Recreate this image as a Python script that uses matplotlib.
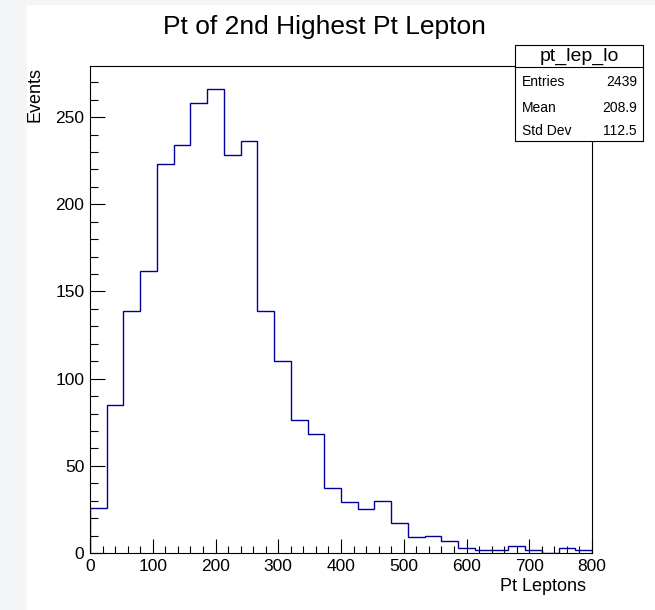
import numpy as np
import matplotlib
matplotlib.use("Agg")
import matplotlib.pyplot as plt
from matplotlib.patches import Rectangle
from matplotlib.ticker import MultipleLocator

plt.rcParams['font.family'] = ['Liberation Sans', 'DejaVu Sans']

# histogram pt_lep_lo : 30 bins from 0 to 800
x_lo, x_hi, n_bins = 0, 800, 30
counts = [26, 85, 139, 162, 223, 234, 258, 266, 228, 236,
          139, 110, 76, 68, 37, 29, 25, 30, 17, 9,
          10, 7, 3, 2, 2, 4, 2, 0, 3, 2]
stat_names = ["Entries", "Mean", "Std Dev"]
stat_values = ["2439", "208.9", "112.5"]
hist_name = "pt_lep_lo"
title = "Pt of 2nd Highest Pt Lepton"
xlabel = "Pt Leptons"
ylabel = "Events"

W, H = 655, 610
fig = plt.figure(figsize=(W / 100, H / 100), dpi=100)
fig.patch.set_facecolor('#f4f5f7')
# white canvas
fig.patches.append(Rectangle((27 / W, 0), 1 - 27 / W, 1 - 5 / H, transform=fig.transFigure,
                             facecolor='white', edgecolor='none', zorder=0))

def fx(px):
    return px / W

def fy(py):
    return 1 - py / H

ax = fig.add_axes([fx(90), fy(553), fx(592) - fx(90), fy(66) - fy(553)])
ax.set_zorder(2)
edges = np.linspace(x_lo, x_hi, n_bins + 1)
ax.stairs(counts, edges, color='#00009c', lw=1.0)

ax.set_xlim(x_lo, x_hi)
ax.set_ylim(0, 1.05 * max(counts))

ax.xaxis.set_major_locator(MultipleLocator(100))
ax.xaxis.set_minor_locator(MultipleLocator(20))
ax.yaxis.set_major_locator(MultipleLocator(50))
ax.yaxis.set_minor_locator(MultipleLocator(10))
ax.tick_params(axis='x', which='major', direction='in', length=10, width=0.8, labelsize=12.5, pad=4)
ax.tick_params(axis='x', which='minor', direction='in', length=5, width=0.8)
ax.tick_params(axis='y', which='major', direction='in', length=11, width=0.8, labelsize=12.5, pad=4)
ax.tick_params(axis='y', which='minor', direction='in', length=5.7, width=0.8)
for s in ax.spines.values():
    s.set_linewidth(0.8)

fig.text(fx(324.5), fy(34), title, fontsize=19, ha='center', va='baseline')
fig.text(fx(586), fy(591), xlabel, fontsize=13, ha='right', va='baseline')
fig.text(fx(35), fy(67), ylabel, fontsize=13, ha='center', va='top', rotation=90)

# stats box
bx0, bx1, by0, by1, bsep = 515, 643, 45, 141, 67
fig.patches.append(Rectangle((fx(bx0), fy(by1)), fx(bx1) - fx(bx0), fy(by0) - fy(by1),
                             transform=fig.transFigure, facecolor='white',
                             edgecolor='black', lw=0.8, zorder=5))
fig.add_artist(plt.Line2D([fx(bx0), fx(bx1)], [fy(bsep), fy(bsep)], transform=fig.transFigure,
                          color='black', lw=0.8, zorder=6))
fig.text(fx((bx0 + bx1) / 2), fy(56), hist_name, fontsize=14, ha='center', va='center', zorder=7)
for i, (nm, val) in enumerate(zip(stat_names, stat_values)):
    yy = [82.5, 107.5, 131][i]
    fig.text(fx(521.5), fy(yy), nm, fontsize=10, ha='left', va='center', zorder=7)
    fig.text(fx(637), fy(yy), val, fontsize=10, ha='right', va='center', zorder=7)

fig.savefig("out.png", dpi=100)
